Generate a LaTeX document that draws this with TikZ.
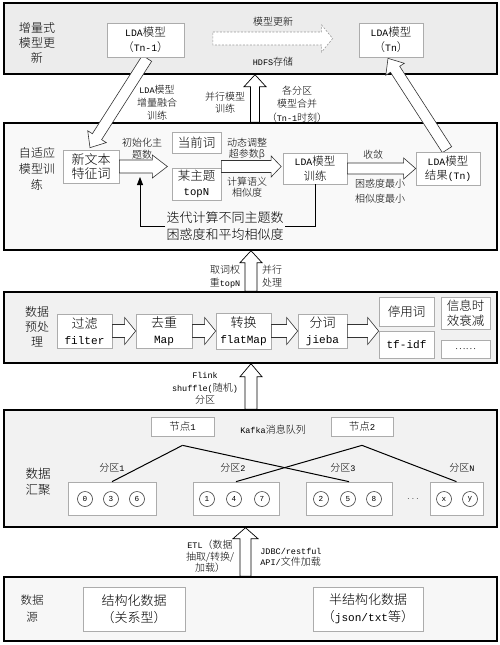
\documentclass[tikz,border=0pt]{standalone}
\usepackage{fontspec}
\setmainfont{Noto Sans CJK SC Light}
\setmonofont{Liberation Mono}[Scale=0.85]
\usetikzlibrary{calc,arrows.meta}
\newcommand\fsz[2]{\fontsize{#1}{#2}\selectfont}
\newcommand\mon[1]{{\ttfamily #1}}
% fat hollow arrow: style, from, to, body half-width, head half-width, head length
\newcommand\fatarr[6]{%
  \coordinate (fah) at ($(#3)!#6!(#2)$);
  \path[#1] ($(#2)!#4!90:(#3)$) -- ($(fah)!#4!90:(#3)$) -- ($(fah)!#5!90:(#3)$) -- (#3)
    -- ($(fah)!#5!-90:(#3)$) -- ($(fah)!#4!-90:(#3)$) -- ($(#2)!#4!-90:(#3)$) -- cycle;}
\pgfdeclarelayer{back}\pgfdeclarelayer{bg}\pgfdeclarelayer{mid}
\pgfsetlayers{back,bg,mid,main}
\begin{document}
\begin{tikzpicture}[x=1pt,y=-1pt,
  layer/.style={draw=black, line width=1.4pt, inner sep=0},
  bx/.style={draw=gray!65, fill=white, line width=0.7pt, inner sep=0, align=center},
  lab/.style={inner sep=0, align=center, font=\fsz{10}{12}},
  ttl/.style={inner sep=0, align=center, font=\fsz{12}{15}},
  farr/.style={draw=gray!40!black, fill=white, line width=0.6pt},
  uarr/.style={draw=black, fill=white, line width=0.7pt},
  cir/.style={circle, draw=gray!50!black, line width=0.6pt, minimum size=15, inner sep=0, font=\fsz{9}{9}\ttfamily},
  kl/.style={draw=black, line width=1pt}]
\useasboundingbox (0,0) rectangle (500,645);
\begin{pgfonlayer}{bg}
\node[layer,fill=gray!15,minimum width=493,minimum height=71] (L1) at (250.5,38.5) {};
\node[layer,fill=gray!5,minimum width=493,minimum height=127] (L2) at (250.5,186.5) {};
\node[layer,fill=gray!11,minimum width=493,minimum height=71] (L3) at (250.5,327.5) {};
\node[layer,fill=gray!10,minimum width=493,minimum height=117] (L4) at (250.5,468.5) {};
\node[layer,fill=gray!6,minimum width=493,minimum height=64] (L5) at (250.5,609) {};
\end{pgfonlayer}
\begin{pgfonlayer}{back}
\coordinate (u1a) at ($(L2.north)+(4.5,0)$); \coordinate (u1b) at ($(L1.south)+(4.5,0)$);
\fatarr{uarr}{u1a}{u1b}{4.5pt}{11pt}{12pt}
\coordinate (u2a) at ($(L3.north)+(0.5,0)$); \coordinate (u2b) at ($(L2.south)+(0.5,0)$);
\fatarr{uarr}{u2a}{u2b}{6pt}{11pt}{12pt}
\coordinate (u3a) at ($(L4.north)+(0.5,0)$); \coordinate (u3b) at ($(L3.south)+(0.5,0)$);
\fatarr{uarr}{u3a}{u3b}{6pt}{11pt}{13pt}
\coordinate (u4a) at ($(L5.north)+(-5,0)$); \coordinate (u4b) at ($(L4.south)+(-5,0)$);
\fatarr{uarr}{u4a}{u4b}{5.5pt}{12.5pt}{11pt}
\end{pgfonlayer}

% ---------- layer 1
\node[ttl] at (37,43) {增量式\\模型更\\新};
\node[bx,minimum width=77,minimum height=34,font=\fsz{11.5}{15}] (tn1) at (145.5,40) {\mon{LDA}模型\\（\mon{Tn-1}）};
\node[bx,minimum width=64,minimum height=34,font=\fsz{11.5}{15}] (tn) at (391,40) {\mon{LDA}模型\\（\mon{Tn}）};
\coordinate (d1) at ($(tn1.east)+(28.5,-1.5)$); \coordinate (d2) at ($(tn.west)+(-26,-1.5)$);
\fatarr{farr,draw=gray!80,dash pattern=on 2pt off 1.5pt}{d1}{d2}{6.5pt}{13.5pt}{11pt}
\node[lab] at (273,22) {模型更新};
\node[lab] at (273,62) {\mon{HDFS}存储};
\node[lab,font=\fsz{10}{13}] at (157,103) {\mon{LDA}模型\\增量融合\\训练};
\node[lab] at (225,102.5) {并行模型\\训练};
\node[lab,font=\fsz{10}{13.5}] at (297,104) {各分区\\模型合并\\（\mon{Tn-1}时刻）};

% ---------- layer 2
\node[ttl,font=\fsz{12}{16}] at (37,169) {自适应\\模型训\\练};
\node[bx,minimum width=56,minimum height=33,font=\fsz{13}{14.5}] (xw) at (91,166.5) {新文本\\特征词};
\node[bx,minimum width=49,minimum height=21,font=\fsz{12.5}{15}] (dq) at (196.5,142.5) {当前词};
\node[bx,minimum width=49,minimum height=32,font=\fsz{12.5}{15}] (zt) at (196.5,184) {某主题\\\mon{topN}};
\node[bx,minimum width=64,minimum height=31,font=\fsz{11.5}{14.5}] (xl) at (315,168.5) {\mon{LDA}模型\\训练};
\node[bx,minimum width=64,minimum height=33,font=\fsz{11.5}{14.5}] (jg) at (448,168.5) {\mon{LDA}模型\\结果\mon{(Tn)}};
\coordinate (a1b) at ($(xw.east)+(48,0)$);
\fatarr{farr}{xw.east}{a1b}{6.5pt}{11.5pt}{15pt}
\coordinate (a2a) at (zt.east |- xw.east); \coordinate (a2b) at ($(xl.west |- xw.east)+(-1.5,0)$);
\fatarr{farr}{a2a}{a2b}{6pt}{10.5pt}{10pt}
\fatarr{farr}{xl.east}{jg.west}{5.5pt}{10.5pt}{12pt}
\node[lab] at (142,149) {初始化主\\题数};
\node[lab,font=\fsz{10}{11}] at (247,148.5) {动态调整\\超参数β};
\node[lab,font=\fsz{10}{11}] at (247,187) {计算语义\\相似度};
\node[lab] at (373,155) {收敛};
\node[lab,font=\fsz{10}{15}] at (380,191.5) {困惑度最小\\相似度最小};
\node[lab,font=\fsz{13}{17},inner xsep=1pt] (lp) at (225,226.5) {迭代计算不同主题数\\困惑度和平均相似度};
\coordinate (lpc) at (140,177);
\draw[line width=0.8pt] (xl.south) -- (xl.south |- lp.east) -- (lp.east);
\draw[line width=0.8pt,-{Triangle[length=8pt,width=6pt]}] (lp.west) -- (lp.west -| lpc) -- (lpc);
\begin{pgfonlayer}{mid}
\coordinate (g1a) at ($(tn1.south)+(1.5,1)$); \coordinate (g1b) at ($(xw.north)+(-1,-2)$);
\fatarr{farr}{g1a}{g1b}{5.5pt}{11pt}{13pt}
\coordinate (g2a) at ($(jg.north)+(-1,-2)$); \coordinate (g2b) at ($(tn.south)+(-3,1)$);
\fatarr{farr}{g2a}{g2b}{5.5pt}{11pt}{13pt}
\end{pgfonlayer}

% ---------- between 2 and 3
\node[lab,font=\fsz{10}{13}] at (225,276.5) {取词权\\重\mon{topN}};
\node[lab,font=\fsz{10}{13}] at (272,276.5) {并行\\处理};

% ---------- layer 3
\node[ttl] at (37,327) {数据\\预处\\理};
\node[bx,minimum width=55,minimum height=34,font=\fsz{13}{16}] (gl) at (84.5,331) {过滤\\\mon{filter}};
\node[bx,minimum width=56,minimum height=34,font=\fsz{13}{16}] (qc) at (164,331) {去重\\\mon{Map}};
\node[bx,minimum width=55,minimum height=36,font=\fsz{13}{16}] (zh) at (243.5,331) {转换\\\mon{flatMap}};
\node[bx,minimum width=49,minimum height=34,font=\fsz{13}{16}] (fc) at (322.5,331) {分词\\\mon{jieba}};
\node[bx,minimum width=55,minimum height=29,font=\fsz{12.5}{15}] (ty) at (406.5,311.5) {停用词};
\node[bx,minimum width=55,minimum height=27,font=\fsz{13}{15}] (tf) at (406.5,344.5) {\mon{tf-idf}};
\node[bx,minimum width=49,minimum height=32,font=\fsz{12.5}{15}] (xx) at (465.5,313) {信息时\\效衰减};
\node[bx,minimum width=49,minimum height=18,font=\fsz{10}{12}] (dd) at (465.5,349) {……};
\fatarr{farr}{gl.east}{qc.west}{6.5pt}{13.5pt}{11pt}
\fatarr{farr}{qc.east}{zh.west}{6.5pt}{13.5pt}{11pt}
\fatarr{farr}{zh.east}{fc.west}{6.5pt}{13.5pt}{11pt}
\coordinate (a7b) at (fc.east -| ty.west);
\fatarr{farr}{fc.east}{a7b}{6.5pt}{13.5pt}{11pt}

% ---------- between 3 and 4
\node[lab,font=\fsz{10}{12.5}] at (205,388.5) {\mon{Flink}\\\mon{shuffle(}随机\mon{)}\\分区};

% ---------- layer 4
\node[ttl,font=\fsz{12.5}{16}] at (38,482) {数据\\汇聚};
\node[bx,minimum width=63,minimum height=19,font=\fsz{10.5}{12}] (n1) at (182.5,426.5) {节点\mon{1}};
\node[bx,minimum width=62,minimum height=19,font=\fsz{10.5}{12}] (n2) at (362,426.5) {节点\mon{2}};
\node[lab] at (273,430) {\mon{Kafka}消息队列};
\node[bx,minimum width=88,minimum height=33] (p1) at (112,498.5) {};
\node[bx,minimum width=86,minimum height=33] (p2) at (236,498.5) {};
\node[bx,minimum width=86,minimum height=33] (p3) at (349,498.5) {};
\node[bx,minimum width=53,minimum height=33] (pN) at (456.5,498.5) {};
\node[lab] at (112,468) {分区\mon{1}};
\node[lab] at (233,468) {分区\mon{2}};
\node[lab] at (343,468) {分区\mon{3}};
\node[lab] at (462,468) {分区\mon{N}};
\coordinate (n1b) at ($(n1.south)+(0,9)$);
\coordinate (n2b) at ($(n2.south)+(0,9)$);
\draw[kl] (n1b) -- (p1.north); \draw[kl] (n1b) -- (p3.north);
\draw[kl] (n2b) -- (p2.north); \draw[kl] (n2b) -- (pN.north);
\node[cir] at (85,499) {0}; \node[cir] at (111,499) {3}; \node[cir] at (137,499) {6};
\node[cir] at (207,499) {1}; \node[cir] at (234,499) {4}; \node[cir] at (262,499) {7};
\node[cir] at (321,499) {2}; \node[cir] at (348,499) {5}; \node[cir] at (374,499) {8};
\node[cir] at (444,499) {x}; \node[cir] at (470,499) {y};
\node[lab,text=gray!60!black] at (413,499) {$\cdots$};

% ---------- between 4 and 5
\node[lab,font=\fsz{10}{11.5}] at (210,556.5) {\mon{ETL}（数据\\抽取/转换/\\加载）};
\node[lab,font=\fsz{10}{11.5},align=left] at (291,557.5) {\mon{JDBC/restful}\\\mon{API/}文件加载};

% ---------- layer 5
\node[ttl,font=\fsz{11.5}{17}] at (32,608.5) {数据\\源};
\node[bx,minimum width=102,minimum height=44,font=\fsz{13}{17}] (s1) at (134,609) {结构化数据\\（关系型）};
\node[bx,minimum width=110,minimum height=44,font=\fsz{13}{17}] (s2) at (368,609) {半结构化数据\\（\mon{json/txt}等）};
\end{tikzpicture}
\end{document}
